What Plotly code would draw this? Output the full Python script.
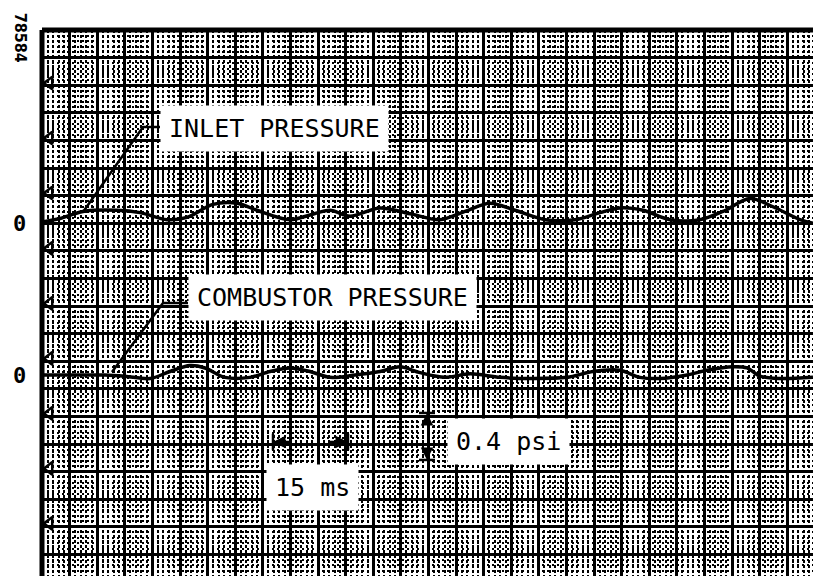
import plotly.graph_objects as go

# Recorder traces: time in ms, pressure deviation from each channel's zero in psi
inlet_t = [0.0, 3.6, 8.2, 15.0, 19.6, 25.0, 29.0, 34.2, 39.0, 43.0, 49.6, 53.6, 57.6, 61.6,
           67.6, 73.6, 79.6, 84.6, 89.6, 94.6, 100.6, 106.6, 111.6, 115.6, 120.2, 125.6,
           131.6, 136.2, 141.6, 146.2, 151.6, 154.2]
inlet_p = [0.01, 0.04, 0.10, 0.11, 0.09, 0.03, 0.05, 0.16, 0.17, 0.11, 0.03, 0.07, 0.11, 0.06,
           0.13, 0.08, 0.03, 0.10, 0.17, 0.11, 0.03, 0.03, 0.09, 0.13, 0.11, 0.03,
           0.03, 0.10, 0.21, 0.14, 0.03, 0.00]

comb_t = [0.0, 5.6, 12.6, 16.6, 21.6, 25.6, 29.6, 32.6, 36.6, 41.6, 45.6, 49.6, 53.6, 57.6,
          62.6, 67.6, 71.6, 75.6, 80.6, 85.6, 91.6, 98.2, 105.0, 110.2, 115.6, 119.6, 123.6,
          129.0, 133.0, 138.2, 141.0, 143.6, 147.6, 154.2]
comb_p = [0.0, 0.0, 0.0, -0.01, -0.03, 0.03, 0.08, 0.06, -0.02, -0.02, 0.03, 0.06, 0.03, -0.02,
          0.0, 0.03, 0.07, 0.02, -0.02, 0.01, -0.02, -0.03, -0.02, 0.03, 0.04, -0.02, -0.03,
          0.0, 0.04, 0.07, 0.06, -0.01, -0.03, -0.02]

# Baselines of the two channels on the chart (psi)
inlet_zero = 0.0
comb_zero = -1.292

# Scale markers
time_scale_ms = 15
pressure_scale_psi = 0.4

# Leader lines from labels to traces
inlet_leader_t = [8.2, 20.2, 23.6]
inlet_leader_y = [0.095, 0.819, 0.819]
comb_leader_t = [14.0, 24.2, 29.2]
comb_leader_y = [-1.266, -0.679, -0.679]

# Recorder edge timing marks
edge_mark_y = [1.193, 0.725, 0.257, -0.214, -0.683, -1.151, -1.619, -2.087, -2.555]

FONT = "DejaVu Sans Mono"
MAJOR_X, MAJOR_Y = 5.52, 0.2349

fig = go.Figure()

for t, p, z in [(inlet_t, inlet_p, inlet_zero), (comb_t, comb_p, comb_zero)]:
    fig.add_trace(go.Scatter(
        x=t, y=[z + v for v in p], mode="lines",
        line=dict(color="black", width=3.5, shape="spline", smoothing=0.9),
        hoverinfo="skip", showlegend=False))

for lt, ly in [(inlet_leader_t, inlet_leader_y), (comb_leader_t, comb_leader_y)]:
    fig.add_trace(go.Scatter(x=lt, y=ly, mode="lines",
                             line=dict(color="black", width=2.5),
                             hoverinfo="skip", showlegend=False))

fig.add_trace(go.Scatter(
    x=[1.5] * len(edge_mark_y), y=edge_mark_y, mode="markers",
    marker=dict(symbol="triangle-left-open", size=11, color="black", line=dict(width=2.5)),
    hoverinfo="skip", showlegend=False))

# time scale bar
ts_t0, ts_y = 46.2, -1.862
ts_t1 = ts_t0 + time_scale_ms
for tx, dx in [(ts_t0, 4.0), (ts_t1, -4.0)]:
    fig.add_shape(type="line", x0=tx, x1=tx, y0=ts_y - 0.07, y1=ts_y + 0.07,
                  line=dict(color="black", width=2.5))
    fig.add_annotation(x=tx, y=ts_y, ax=tx + dx, ay=ts_y, axref="x", ayref="y",
                       xref="x", yref="y", text="", showarrow=True,
                       arrowhead=2, arrowsize=1, arrowwidth=2.5, arrowcolor="black")

# pressure scale bar
ps_t, ps_y0 = 77.0, -2.015
ps_y1 = ps_y0 + pressure_scale_psi
for yy, dy in [(ps_y0, 0.1), (ps_y1, -0.1)]:
    fig.add_shape(type="line", x0=ps_t - 1.6, x1=ps_t + 1.6, y0=yy, y1=yy,
                  line=dict(color="black", width=2.5))
    fig.add_annotation(x=ps_t, y=yy, ax=ps_t, ay=yy + dy, axref="x", ayref="y",
                       xref="x", yref="y", text="", showarrow=True,
                       arrowhead=2, arrowsize=1, arrowwidth=2.5, arrowcolor="black")

label_font = dict(family=FONT, size=25, color="black")
labels = [
    ("INLET PRESSURE", 23.6, 0.802, "left"),
    ("COMBUSTOR PRESSURE", 29.2, -0.630, "left"),
    (f"{time_scale_ms} ms", 54.0, -2.253, "center"),
    (f"{pressure_scale_psi} psi", 81.0, -1.862, "left"),
]
for txt, x, y, xa in labels:
    fig.add_annotation(x=x, y=y, xref="x", yref="y", text=txt, showarrow=False,
                       xanchor=xa, yanchor="middle", font=label_font,
                       bgcolor="white", borderpad=8)

for z in (inlet_zero, comb_zero):
    fig.add_annotation(x=-0.04, y=z, xref="paper", yref="y", text="<b>0</b>",
                       showarrow=False, font=dict(family=FONT, size=22, color="black"))

fig.add_annotation(x=-0.028, y=0.985, xref="paper", yref="paper", text="<b>78584</b>",
                   textangle=90, showarrow=False, xanchor="center", yanchor="middle",
                   font=dict(family="DejaVu Sans Condensed", size=16, color="black"))

# chart borders
fig.add_shape(type="line", xref="paper", yref="paper", x0=0, x1=0, y0=0, y1=1,
              line=dict(color="black", width=5))
fig.add_shape(type="line", xref="paper", yref="paper", x0=0, x1=1, y0=1, y1=1,
              line=dict(color="black", width=5))

grid_common = dict(showticklabels=False, ticks="", zeroline=False, showline=False,
                   showgrid=True, gridcolor="black", gridwidth=3)
fig.update_xaxes(range=[0, 154.2], tick0=0, dtick=MAJOR_X,
                 minor=dict(tick0=0, dtick=MAJOR_X / 5, showgrid=True, gridcolor="black",
                            gridwidth=2, griddash="3px,2px"),
                 **grid_common)
fig.update_yaxes(range=[-3.0026, 1.6443], tick0=0, dtick=MAJOR_Y,
                 minor=dict(tick0=0, dtick=MAJOR_Y / 5, showgrid=True, gridcolor="black",
                            gridwidth=1.5, griddash="2px,3px"),
                 **grid_common)

fig.update_layout(width=813, height=576, margin=dict(l=42, r=0, t=30, b=0),
                  paper_bgcolor="white", plot_bgcolor="white", showlegend=False)

fig.write_html("out.html")
